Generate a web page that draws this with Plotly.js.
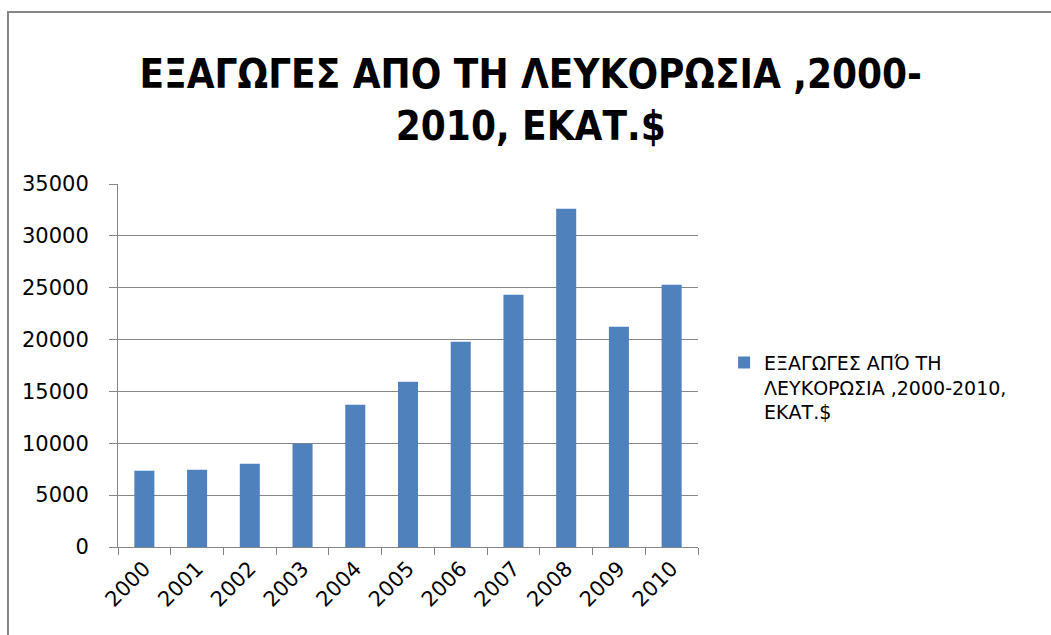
<!DOCTYPE html>
<html>
<head>
<meta charset="utf-8">
<script src="https://cdn.plot.ly/plotly-3.0.1.min.js"></script>
<style>html,body{margin:0;padding:0;background:#fff;}#chart{width:1051px;height:635px;}</style>
</head>
<body>
<div id="chart"></div>
<script>
const years = ["2000","2001","2002","2003","2004","2005","2006","2007","2008","2009","2010"];
const exportsValues = [7360, 7450, 8030, 9960, 13720, 15940, 19800, 24330, 32620, 21240, 25290];
const yTicks = [0, 5000, 10000, 15000, 20000, 25000, 30000, 35000];
const seriesName = "ΕΞΑΓΩΓΕΣ ΑΠΌ ΤΗ<br>ΛΕΥΚΟΡΩΣΙΑ ,2000-2010,<br>ΕΚΑΤ.$";
const chartTitle = "ΕΞΑΓΩΓΕΣ ΑΠΟ ΤΗ ΛΕΥΚΟΡΩΣΙΑ ,2000-<br>2010, ΕΚΑΤ.$";

const trace = {
  type: "bar",
  x: years,
  y: exportsValues,
  name: seriesName,
  marker: {color: "#4f81bd"},
  showlegend: true,
  hoverinfo: "x+y"
};

const layout = {
  width: 1051,
  height: 635,
  paper_bgcolor: "#ffffff",
  plot_bgcolor: "#ffffff",
  margin: {l: 118, r: 353, t: 184, b: 88, pad: 0},
  bargap: 0.62,
  font: {family: "DejaVu Sans, sans-serif", color: "#000"},
  title: {
    text: chartTitle,
    font: {family: "Liberation Sans Narrow, DejaVu Sans Condensed, sans-serif", size: 40, color: "#000", weight: "bold"},
    x: 0.505, xref: "container", xanchor: "center",
    y: 0.862, yref: "container", yanchor: "bottom"
  },
  xaxis: {
    type: "category",
    tickangle: -45,
    tickson: "boundaries",
    ticks: "outside",
    ticklen: 7,
    tickcolor: "#868686",
    showline: true,
    linecolor: "#868686",
    linewidth: 1,
    showgrid: false,
    tickfont: {family: "DejaVu Sans", size: 21, color: "#000"}
  },
  yaxis: {
    range: [0, 35000],
    tickvals: yTicks,
    ticktext: yTicks.map(String),
    ticks: "outside",
    ticklen: 8,
    tickcolor: "#868686",
    showline: true,
    linecolor: "#868686",
    linewidth: 1,
    showgrid: true,
    gridcolor: "#868686",
    gridwidth: 1,
    zeroline: false,
    tickfont: {family: "DejaVu Sans", size: 21, color: "#000"},
    ticklabelstandoff: 16
  },
  showlegend: true,
  legend: {
    x: 1.045, xanchor: "left",
    y: 0.56, yanchor: "top",
    valign: "top",
    font: {family: "DejaVu Sans", size: 19, color: "#000"},
    bgcolor: "rgba(0,0,0,0)",
    itemwidth: 30
  },
  shapes: [{
    type: "rect", xref: "paper", yref: "paper",
    x0: -0.1897, x1: 1.7, y0: -0.4, y1: 1.474,
    line: {color: "#868686", width: 2}, fillcolor: "rgba(0,0,0,0)", layer: "below"
  }]
};

Plotly.newPlot("chart", [trace], layout, {displayModeBar: false, staticPlot: true});
</script>
</body>
</html>
